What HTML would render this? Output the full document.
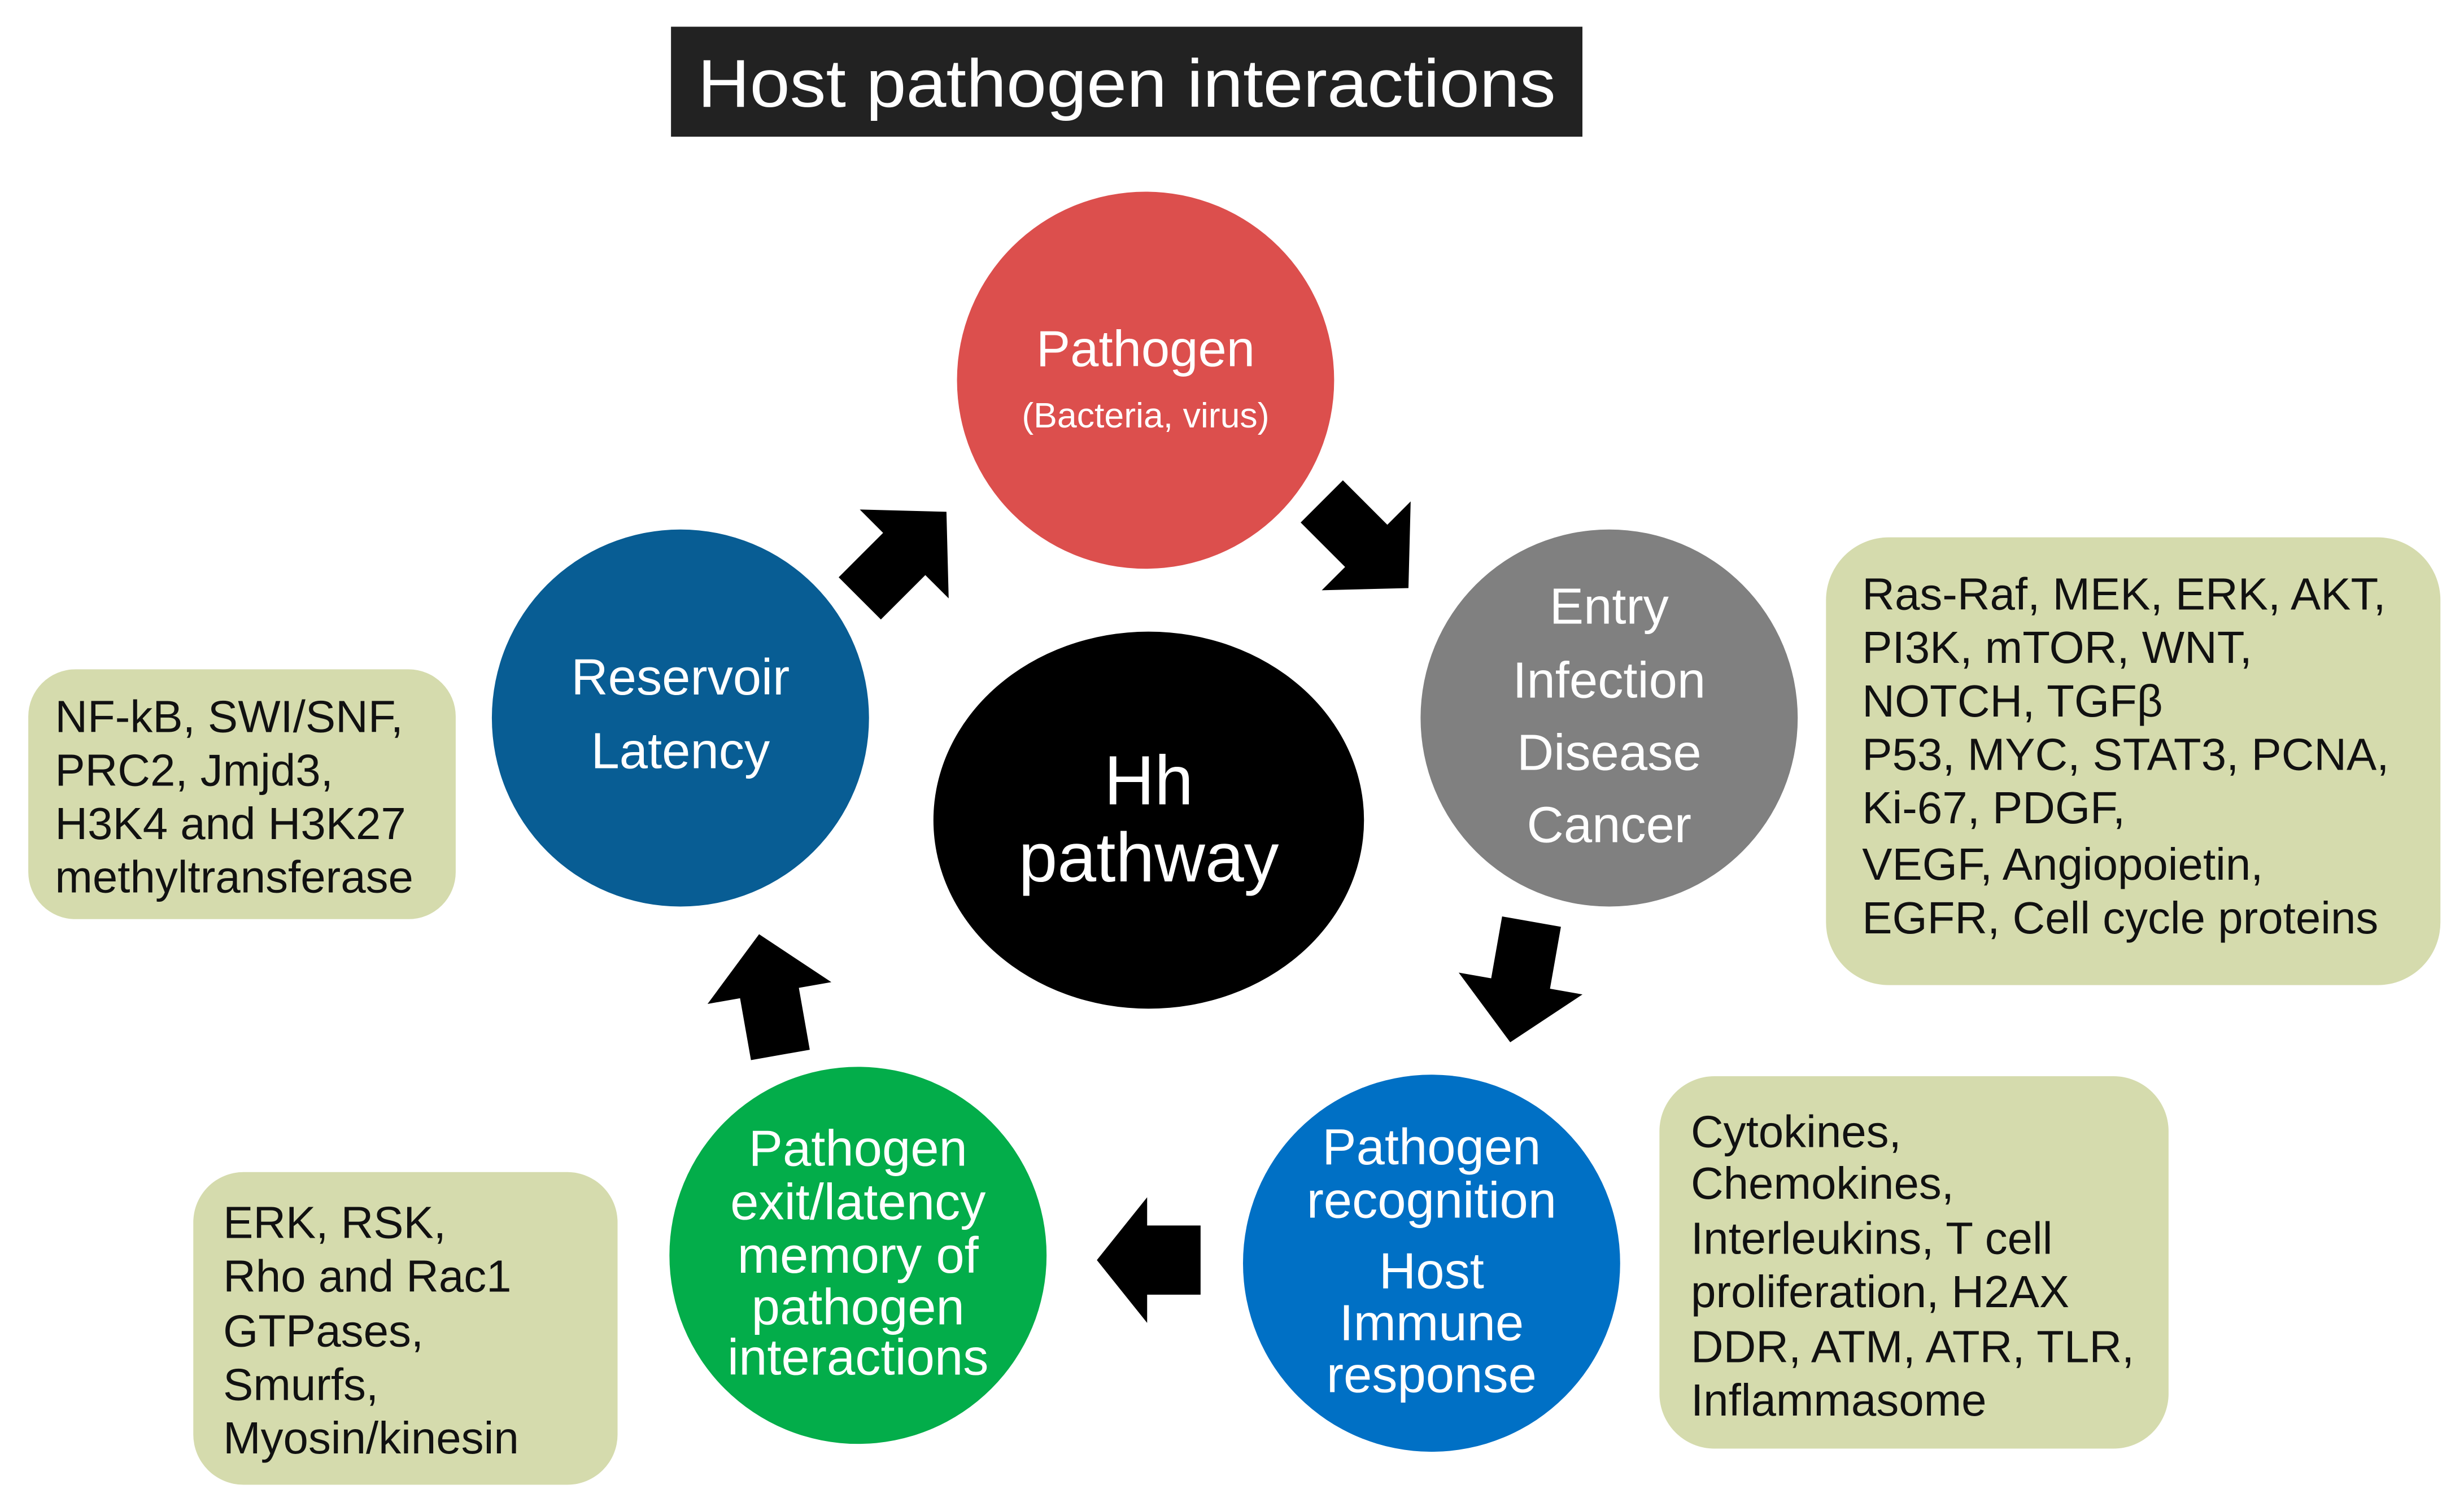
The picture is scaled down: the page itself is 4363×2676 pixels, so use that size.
<!DOCTYPE html>
<html><head><meta charset="utf-8"><style>
html,body{margin:0;padding:0;background:#fff;}
svg{display:block;}
text{font-family:"Liberation Sans",Arial,sans-serif;}
</style></head><body>
<svg width="4363" height="2676" viewBox="0 0 1568 961.7" preserveAspectRatio="none" xmlns="http://www.w3.org/2000/svg">
<rect width="1568" height="962" fill="#fff"/>
<rect x="427" y="17" width="580" height="70" fill="#222"/>
<text x="717" y="68" font-size="43" fill="#fff" text-anchor="middle" textLength="546" lengthAdjust="spacingAndGlyphs">Host pathogen interactions</text>

<rect x="18" y="426" width="272" height="159" rx="30" fill="#d5dbad"/>
<rect x="1162" y="342" width="391" height="285" rx="40" fill="#d5dbad"/>
<rect x="1056" y="685" width="324" height="237" rx="35" fill="#d5dbad"/>
<rect x="123" y="746" width="270" height="199" rx="32" fill="#d5dbad"/>

<g font-size="28.7" fill="#111">
<text x="35" y="466">NF-kB, SWI/SNF,</text>
<text x="35" y="500">PRC2, Jmjd3,</text>
<text x="35" y="534">H3K4 and H3K27</text>
<text x="35" y="568">methyltransferase</text>

<text x="1185" y="388">Ras-Raf, MEK, ERK, AKT,</text>
<text x="1185" y="422">PI3K, mTOR, WNT,</text>
<text x="1185" y="456">NOTCH, TGFβ</text>
<text x="1185" y="490">P53, MYC, STAT3, PCNA,</text>
<text x="1185" y="524">Ki-67, PDGF,</text>
<text x="1185" y="560">VEGF,  Angiopoietin,</text>
<text x="1185" y="594">EGFR, Cell cycle proteins</text>

<text x="1076" y="730">Cytokines,</text>
<text x="1076" y="763">Chemokines,</text>
<text x="1076" y="798">Interleukins, T cell</text>
<text x="1076" y="832">proliferation, H2AX</text>
<text x="1076" y="867">DDR, ATM, ATR, TLR,</text>
<text x="1076" y="901">Inflammasome</text>

<text x="142" y="788">ERK, RSK,</text>
<text x="142" y="822">Rho and Rac1</text>
<text x="142" y="857">GTPases,</text>
<text x="142" y="891">Smurfs,</text>
<text x="142" y="925">Myosin/kinesin</text>
</g>

<circle cx="729" cy="242" r="120" fill="#dc4f4d"/>
<circle cx="1024" cy="457" r="120" fill="#808080"/>
<circle cx="433" cy="457" r="120" fill="#085d94"/>
<ellipse cx="731" cy="522" rx="137" ry="120" fill="#000"/>
<circle cx="546" cy="799" r="120" fill="#03ad4a"/>
<circle cx="911" cy="804" r="120" fill="#0070c5"/>

<g fill="#fff" text-anchor="middle" font-size="32.5">
<text x="729" y="233">Pathogen</text>
<text x="729" y="272" font-size="22.5">(Bacteria, virus)</text>
<text x="1024" y="397">Entry</text>
<text x="1024" y="444">Infection</text>
<text x="1024" y="490">Disease</text>
<text x="1024" y="536">Cancer</text>
<text x="433" y="442">Reservoir</text>
<text x="433" y="489">Latency</text>
<text x="731" y="512" font-size="44.5">Hh</text>
<text x="731" y="561" font-size="44.5">pathway</text>
<text x="546" y="742">Pathogen</text>
<text x="546" y="776">exit/latency</text>
<text x="546" y="810">memory of</text>
<text x="546" y="843">pathogen</text>
<text x="546" y="875">interactions</text>
<text x="911" y="741">Pathogen</text>
<text x="911" y="775">recognition</text>
<text x="911" y="820">Host</text>
<text x="911" y="853">Immune</text>
<text x="911" y="886">response</text>
</g>

<defs>
<polygon id="arr" points="-38,-19 2,-19 2,-40 40,0 2,40 2,19 -38,19" fill="#000"/>
<polygon id="arr2" points="-32,-22 2,-22 2,-40 34,0 2,40 2,22 -32,22" fill="#000"/>
</defs>
<use href="#arr" transform="translate(574,354) rotate(-45)"/>
<use href="#arr" transform="translate(868,346) rotate(45)"/>
<use href="#arr" transform="translate(968,624) rotate(100)"/>
<use href="#arr2" transform="translate(732,802) rotate(180)"/>
<use href="#arr" transform="translate(490,634) rotate(-100)"/>
</svg>
</body></html>
